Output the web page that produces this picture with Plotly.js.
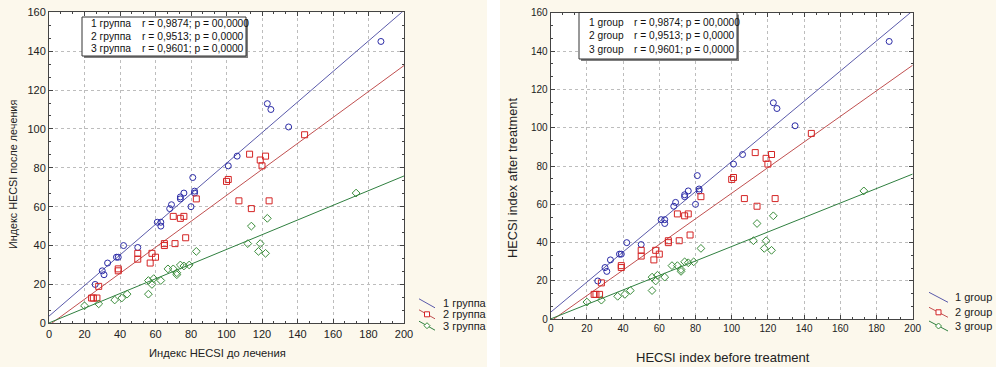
<!DOCTYPE html>
<html><head><meta charset="utf-8">
<script src="https://cdn.plot.ly/plotly-3.0.1.min.js"></script>
<style>html,body{margin:0;padding:0;background:#fff}#chart{width:996px;height:367px}</style>
</head><body><div id="chart"></div>
<script>
// ---- data ----
const g1x = [26,30,31,33,38,39,42,50,61,63,63,68,69,74,74,76,80,81,82,82,101,106,123,125,135,187];
const g1y = [20,27,25,31,34,34,40,39,52,52,50,59,61,64,65,67,60,75,67,68,81,86,113,110,101,145];
const g2x = [24,25,27,28,39,39,50,50,57,58,60,65,65,70,71,74,76,77,83,100,101,107,113,114,119,120,122,124,144];
const g2y = [13,13,13,19,28,27,36,33,31,36,34,40,41,55,41,54,55,44,64,73,74,63,87,59,84,81,86,63,97];
const g3x = [20,28,37,41,44,56,56,58,59,63,67,70,72,72,74,76,79,83,112,114,118,119,122,123,173];
const g3y = [9,10,12,13,15,15,22,20,23,22,28,28,25,26,30,29.5,30,37,41,50,37,41,36,54,67];
// regression lines (end points)
const fitX = [0, 200];
const fit1Y = [3.7, 161];
const fit2Y = [-1, 132.6];
const fit3Y = [0.2, 75.8];
// labels
const groupsRu = ['1 группа','2 группа','3 группа'];
const groupsEn = ['1 group','2 group','3 group'];
const rVals = ['0,9874','0,9513','0,9601'];
const pVals = ['00,0000','0,0000','0,0000'];
const xTicks = [0,20,40,60,80,100,120,140,160,180,200];
const yTicks = [0,20,40,60,80,100,120,140,160];
const titlesRu = {x:'Индекс HECSI до лечения', y:'Индекс HECSI после лечения'};
const titlesEn = {x:'HECSI index before treatment', y:'HECSI index after treatment'};

// ---- styling ----
const W = 996, H = 367;
const FONT = 'Liberation Sans, Arial, sans-serif';
const markerCol = ['#2b2ba6','#d42424','#3a8c3a'];
const lineCol = ['#5a5aaa','#c05050','#2f7f3f'];
const symbols = ['circle-open','square-open','diamond-open'];
const xs = [g1x,g2x,g3x], ys = [g1y,g2y,g3y], fits = [fit1Y,fit2Y,fit3Y];
const fx = v => v / W, fy = v => 1 - v / H;

const panels = [
  {ax:'', left:49, right:404, top:12.3, bottom:323.3, groups:groupsRu, titles:titlesRu, tickfs:11,
   box:{x0:82,x1:246,y0:17,y1:56, tx:89, rx:140, ly:[24,36,48.3], fs:10.3},
   leg:{lx0:419, lx1:435, tx:441, ly:[303.3,314.3,325.7], fs:11, dy:4.5},
   xt:{x:217,y:353,fs:11.2}, yt:{x:13,y:175,fs:10.8}, ms:6},
  {ax:'2', left:550.7, right:912.7, top:12.7, bottom:319.3, groups:groupsEn, titles:titlesEn, tickfs:10,
   box:{x0:579,x1:737,y0:12.5,y1:59, tx:587, rx:632, ly:[22,35.3,49.3], fs:10.2},
   leg:{lx0:929, lx1:948, tx:952.5, ly:[297.3,312.3,326], fs:11, dy:5},
   xt:{x:723,y:357,fs:13}, yt:{x:512,y:178,fs:12.8}, ms:6}
];

const traces = [], shapes = [], annotations = [];
const layout = {
  width: W, height: H, margin:{l:0,r:0,t:0,b:0},
  paper_bgcolor:'#fcf8ec', plot_bgcolor:'#ffffff', showlegend:false,
  font:{family:FONT, size:11, color:'#222'}
};

panels.forEach((P) => {
  const xa = 'x'+P.ax, ya = 'y'+P.ax;
  for (let i=0;i<3;i++) {
    traces.push({type:'scatter', mode:'lines', x:fitX, y:fits[i], xaxis:xa, yaxis:ya,
      line:{color:lineCol[i], width:1}, hoverinfo:'skip'});
  }
  for (let i=0;i<3;i++) {
    traces.push({type:'scatter', mode:'markers', x:xs[i], y:ys[i], xaxis:xa, yaxis:ya,
      marker:{symbol:symbols[i], size:P.ms, color:markerCol[i], line:{width:1, color:markerCol[i]}},
      cliponaxis:true});
  }
  const common = {showline:true, linecolor:'#444', linewidth:1, mirror:'ticks', ticks:'inside',
    ticklen:4, tickcolor:'#444', showgrid:true, gridcolor:'#bdbdbd', griddash:'dot', gridwidth:1,
    zeroline:false, tickfont:{family:FONT, size:P.tickfs, color:'#222'},
    minor:{ticks:'inside', ticklen:2, tickcolor:'#444', dtick:20/3, tick0:0, showgrid:false}};
  layout['xaxis'+P.ax] = Object.assign({}, common, {domain:[fx(P.left), fx(P.right)], range:[0,200],
    tickmode:'array', tickvals:xTicks, ticktext:xTicks.map(String), anchor:ya});
  layout['yaxis'+P.ax] = Object.assign({}, common, {domain:[fy(P.bottom), fy(P.top)], range:[0,160],
    tickmode:'array', tickvals:yTicks, ticktext:yTicks.map(String), anchor:xa});

  // axis titles
  annotations.push({xref:'paper', yref:'paper', x:fx(P.xt.x), y:fy(P.xt.y), text:P.titles.x,
    showarrow:false, xanchor:'center', yanchor:'middle', font:{family:FONT, size:P.xt.fs, color:'#222'}});
  annotations.push({xref:'paper', yref:'paper', x:fx(P.yt.x), y:fy(P.yt.y), text:P.titles.y,
    showarrow:false, textangle:-90, xanchor:'center', yanchor:'middle', font:{family:FONT, size:P.yt.fs, color:'#222'}});

  // stats box with shadow
  const B = P.box;
  shapes.push({type:'rect', xref:'paper', yref:'paper', x0:fx(B.x0+2), x1:fx(B.x1+2), y0:fy(B.y1+2), y1:fy(B.y0+2),
    fillcolor:'#808080', line:{width:0}, layer:'above'});
  shapes.push({type:'rect', xref:'paper', yref:'paper', x0:fx(B.x0), x1:fx(B.x1), y0:fy(B.y1), y1:fy(B.y0),
    fillcolor:'#ffffff', line:{width:1, color:'#333'}, layer:'above'});
  for (let i=0;i<3;i++) {
    annotations.push({xref:'paper', yref:'paper', x:fx(B.tx), y:fy(B.ly[i]), text:P.groups[i], showarrow:false,
      xanchor:'left', yanchor:'middle', font:{family:FONT, size:B.fs, color:'#111'}});
    annotations.push({xref:'paper', yref:'paper', x:fx(B.rx), y:fy(B.ly[i]), text:'r = '+rVals[i]+'; p = '+pVals[i],
      showarrow:false, xanchor:'left', yanchor:'middle', font:{family:FONT, size:B.fs, color:'#111'}});
  }

  // legend (slanted symbols like the original)
  const L = P.leg;
  for (let i=0;i<3;i++) {
    const cy = L.ly[i];
    shapes.push({type:'line', xref:'paper', yref:'paper', x0:fx(L.lx0), y0:fy(cy-L.dy), x1:fx(L.lx1), y1:fy(cy+L.dy),
      line:{color:lineCol[i], width:1}});
    const mx = fx((L.lx0+L.lx1)/2), my = fy(cy);
    let path;
    if (i===0) path = 'M -2.5,0 A 2.5,2.5 0 1,1 2.5,0 A 2.5,2.5 0 1,1 -2.5,0 Z';
    else if (i===1) path = 'M -2.5,-2.5 L 2.5,-2.5 L 2.5,2.5 L -2.5,2.5 Z';
    else path = 'M 0,-3 L 3,0 L 0,3 L -3,0 Z';
    shapes.push({type:'path', xref:'paper', yref:'paper', xsizemode:'pixel', ysizemode:'pixel',
      xanchor:mx, yanchor:my, path:path, fillcolor:'#ffffff', line:{color:markerCol[i], width:1}});
    annotations.push({xref:'paper', yref:'paper', x:fx(L.tx), y:fy(cy), text:P.groups[i], showarrow:false,
      xanchor:'left', yanchor:'middle', font:{family:FONT, size:L.fs, color:'#222'}});
  }
});

// white gap between the two panels
shapes.push({type:'rect', xref:'paper', yref:'paper', x0:fx(487), x1:fx(500), y0:0, y1:1,
  fillcolor:'#ffffff', line:{width:0}, layer:'below'});

layout.shapes = shapes;
layout.annotations = annotations;
Plotly.newPlot('chart', traces, layout, {staticPlot:true, displayModeBar:false});
</script>
</body></html>
